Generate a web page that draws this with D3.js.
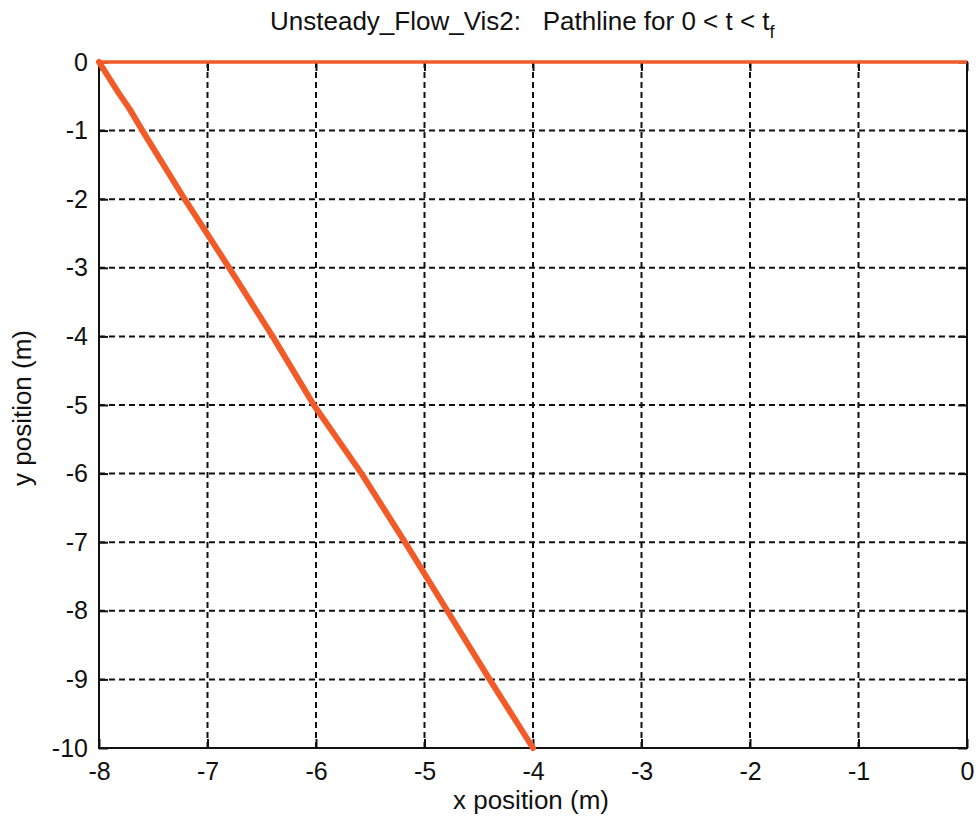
<!DOCTYPE html>
<html><head><meta charset="utf-8">
<script src="https://cdn.jsdelivr.net/npm/d3@7"></script>
<style>body{margin:0;background:#fff}svg{display:block}text{font-family:"Liberation Sans",Arial,sans-serif;fill:#111}</style>
</head><body><div id="c"></div>
<script>
const xTicks = [-8,-7,-6,-5,-4,-3,-2,-1,0];
const yTicks = [0,-1,-2,-3,-4,-5,-6,-7,-8,-9,-10];
const pathX = [-8,-7.82,-7.72,-7.6,-7.21,-6.8,-6.4,-6.02,-5.58,-5.18,-4.79,-4.4,-4];
const pathY = [0,-0.45,-0.68,-1,-2,-3,-4,-5,-6,-7,-8,-9,-10];
const topX = [-8,0];
const topY = [0,0];

const W=979,H=824, m={l:99,t:62,r:12,b:76};
const pw=W-m.l-m.r, ph=H-m.t-m.b;
const svg=d3.select('#c').append('svg').attr('width',W).attr('height',H);
const x=d3.scaleLinear().domain([-8,0]).range([m.l,m.l+pw]);
const y=d3.scaleLinear().domain([-10,0]).range([m.t+ph,m.t]);
const g=svg.append('g');
// grid
g.selectAll('.vg').data(xTicks.slice(1,-1)).join('line')
 .attr('x1',d=>x(d)).attr('x2',d=>x(d)).attr('y1',m.t).attr('y2',m.t+ph)
 .attr('stroke','#111').attr('stroke-width',2).attr('stroke-dasharray','6,4');
g.selectAll('.hg').data(yTicks.slice(1,-1)).join('line')
 .attr('y1',d=>y(d)).attr('y2',d=>y(d)).attr('x1',m.l).attr('x2',m.l+pw)
 .attr('stroke','#111').attr('stroke-width',2).attr('stroke-dasharray','6,4');
// tick marks inside
const tl=9, fmt=d=>String(d);
const xa=d3.axisBottom(x).tickValues(xTicks).tickSizeInner(-tl).tickSizeOuter(0).tickPadding(14).tickFormat(fmt);
const ya=d3.axisLeft(y).tickValues(yTicks).tickSizeInner(-tl).tickSizeOuter(0).tickPadding(11).tickFormat(fmt);
const gx=svg.append('g').attr('transform',`translate(0,${m.t+ph})`).call(xa);
const gy=svg.append('g').attr('transform',`translate(${m.l},0)`).call(ya);
const gxt=svg.append('g').attr('transform',`translate(0,${m.t})`).call(d3.axisTop(x).tickValues(xTicks).tickSizeInner(-tl).tickSizeOuter(0).tickFormat(''));
const gyr=svg.append('g').attr('transform',`translate(${m.l+pw},0)`).call(d3.axisRight(y).tickValues(yTicks).tickSizeInner(-tl).tickSizeOuter(0).tickFormat(''));
[gx,gy,gxt,gyr].forEach(a=>{a.select('.domain').remove();a.selectAll('line').attr('stroke','#111').attr('stroke-width',2);});
[gx,gy].forEach(a=>a.selectAll('text').style('font-size','25px').style('font-family','"Liberation Sans",Arial,sans-serif').attr('fill','#111'));
gx.selectAll('text').attr('dy','0.71em');
svg.append('rect').attr('x',m.l).attr('y',m.t).attr('width',pw).attr('height',ph)
 .attr('fill','none').attr('stroke','#111').attr('stroke-width',2);
// lines
const line=d3.line().x(d=>x(d[0])).y(d=>y(d[1]));
svg.append('path').datum(topX.map((v,i)=>[v,topY[i]])).attr('d',line)
 .attr('fill','none').attr('stroke','#f25a28').attr('stroke-width',3.5);
svg.append('path').datum(pathX.map((v,i)=>[v,pathY[i]])).attr('d',line)
 .attr('fill','none').attr('stroke','#f25a28').attr('stroke-width',6).attr('stroke-linejoin','round').attr('stroke-linecap','round');
// labels
const t=svg.append('text').attr('x',270).attr('y',30).style('font-size','26px');
t.append('tspan').text('Unsteady_Flow_Vis2:\u00a0\u00a0\u00a0Pathline for 0 < t < t');
t.append('tspan').attr('dy',8).style('font-size','18px').text('f');
svg.append('text').attr('x',531).attr('y',809).attr('text-anchor','middle').style('font-size','26px').text('x position (m)');
svg.append('text').attr('transform','translate(31,408) rotate(-90)').attr('text-anchor','middle').style('font-size','26px').text('y position (m)');
</script></body></html>
